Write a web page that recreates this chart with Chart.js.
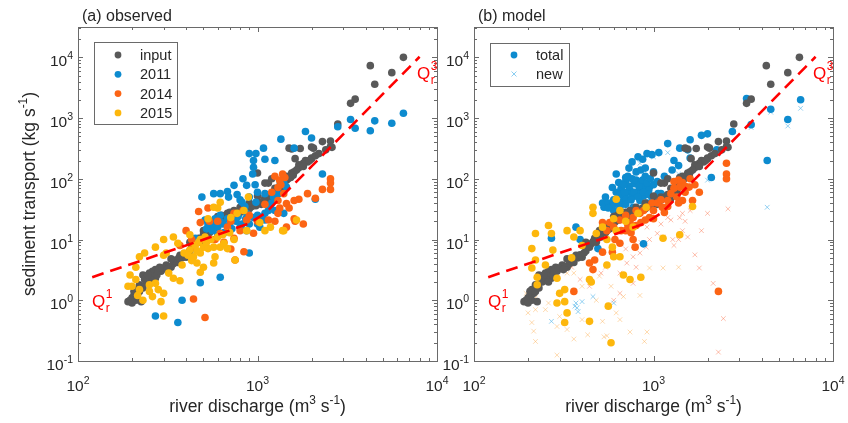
<!DOCTYPE html>
<html>
<head>
<meta charset="utf-8">
<script src="https://cdn.jsdelivr.net/npm/chart.js@4.4.1/dist/chart.umd.min.js"></script>
<style>
  html, body { margin: 0; padding: 0; background: #fff; }
  #wrap { position: relative; width: 848px; height: 423px; overflow: hidden; }
  #wrap canvas { position: absolute; top: 0; }
  #chartA { left: 0; }
  #chartB { left: 410px; }
</style>
</head>
<body>
<div id="wrap">
  <canvas id="chartA" width="460" height="423"></canvas>
  <canvas id="chartB" width="438" height="423"></canvas>
</div>
<script>
// river discharge Q (m3/s) vs sediment transport S (kg/s), pairs [Q, S]
const input = [
  [6500,10000],[4250,7300],[5600,5600],[4500,3600],[3300,1750],[3500,2050],[2800,800],[2300,410],
  [2550,420],[2550,340],[2000,335],[2000,215],[1730,315],[1550,310],[2050,320],[1500,320],[1620,215],
  [190,0.95],[200,1.1],[210,1.0],[210,1.5],[220,1.8],[225,0.95],[240,2.0],[230,2.6],[250,2.8],[270,2.3],
  [270,3.2],[285,3.5],[310,3.8],[330,3.5],[350,4.6],[370,5.5],[400,5.1],[430,8],[470,10.5],[500,12],
  [530,14],[560,16],[620,21],[680,23],[740,27],[800,28],[890,34],[950,37],[1020,41],[1100,50],[1250,70],
  [1340,85],[1530,105],[1690,150],[1800,180],[2000,220],[1000,125],[1850,200],[1700,170],[1550,125],
  [1450,95],[1350,63],[1300,57],[1240,45],[1150,85],[1000,52],[1040,40],[1100,45],[800,34],[740,30],
  [680,27],[630,25],[290,3.0],[300,3.3],[320,3.6],[360,4.2],[380,5.0],[420,6.5],[450,8.5],[480,9],
  [520,12.5],[550,14],[580,17],[600,19],[650,22],[700,24],[760,26],[850,30],[900,32],[980,36],[1050,38],
  [1150,48],[1200,55],[1400,90],[1450,110],[1600,130],[1750,160],[1900,190],[2100,240],[2400,300],
  [260,3.0],[240,2.4],[215,1.3],[205,1.2],[230,1.6],[255,2.2],[265,2.8],[1400,105],
  [195,1.0],[200,0.9],[205,1.4],[220,1.4],[235,2.2],[245,2.6],[275,2.6],[280,3.1],[295,3.4],[315,3.2],
  [340,4.0],[345,4.4],[365,5.0],[390,5.6],[410,6.0],[440,7.5],[460,9.2],[490,10.5],[510,11],[540,13],
  [570,15],[590,18],[610,19.5],[640,21],[660,23],[720,25],[780,29],[820,31],[870,33],[930,35],[1000,39],
  [1080,44],[1180,52],[1300,65],[1380,80],[1480,100],[1580,115],[1650,140],[1800,160],[1950,200],
  [2200,260],[2600,330],[1100,85],[1200,100],[900,40],[700,28],[600,24],[500,14],[420,9],[330,4.8],[260,2.0]
];
const obs2011 = [
  [6500,1200],[5600,820],[4500,900],[4250,620],[3500,680],[3300,950],[2800,720],[2300,120],[2100,46],
  [2000,470],[1850,600],[1600,320],[1350,450],[1250,200],[1100,210],[1080,320],[980,260],[900,260],
  [950,200],[950,155],[940,120],[830,100],[970,80],[870,78],[740,78],[680,62],[620,57],[570,57],[770,55],
  [490,50],[690,50],[820,41],[980,41],[1100,57],[1230,50],[1300,57],[1400,87],[1450,73],[1250,30],
  [1400,27],[510,21],[540,16],[560,14],[630,19],[650,13],[740,21],[800,16],[870,14],[950,23],[1030,16],
  [1100,21],[870,27],[1100,27],[1180,34],[450,10.5],[900,6],[480,1.95],[620,2.4],[380,1.0],[270,0.55],
  [360,0.43],[520,15],[530,18],[580,22],[600,12],[700,18],[760,20],[900,18],[1000,25],[1150,30],
  [850,35],[1200,40],[600,16],[640,18],[680,22],[720,15],[780,24],[820,18],[860,22],[1000,18],[1050,23],
  [560,18],[620,25],[900,50],[1000,60],[800,45]
];
const obs2014 = [
  [2550,100],[2550,85],[2550,67],[2300,67],[2100,48],[1900,57],[1700,46],[1600,44],[1800,18],[1600,22],
  [1620,20],[1450,16],[1420,105],[1330,95],[1300,72],[1400,57],[1300,44],[1250,110],[1450,39],[1500,33],
  [1330,33],[1300,27],[1250,20],[1150,21],[1000,20],[870,21],[830,30],[740,27],[710,20],[800,14],
  [740,10.5],[840,6.3],[750,4.6],[710,7],[620,12.6],[600,20],[540,20],[480,19],[470,29],[530,33],
  [400,14],[430,10],[440,7.5],[370,8],[950,12.7],[440,1.05],[510,0.52],[580,10],[1350,80],[1200,60],
  [1100,38],[680,16],[650,9],[900,25],[1380,120]
];
const obs2015 = [
  [1650,21],[1400,14],[870,14],[750,4.6],[1180,16],[1100,14],[1030,19],[890,50],[840,30],[770,27],
  [710,23],[620,41],[600,33],[570,34],[530,22],[420,12],[360,8.7],[340,11],[300,10],[270,7.5],[300,5.5],
  [220,5.2],[235,6],[310,6],[210,3.5],[195,2.6],[210,2.2],[190,1.7],[200,1.7],[220,1.5],[250,1.8],
  [280,1.5],[300,1.3],[260,1.15],[290,0.95],[230,1.0],[300,0.55],[320,2.8],[340,2.3],[380,3.8],[370,2.1],
  [390,6],[420,6.7],[440,5.2],[460,4.1],[480,6],[500,7.5],[530,7.1],[570,7.5],[580,5.2],[570,4.1],
  [620,7.5],[650,8.7],[680,7.1],[740,10],[480,10],[510,11],[480,2.9],[500,3.5],[1380,14],[450,8],
  [470,9],[520,9],[550,10],[600,11],[640,12],[700,13],[460,6.5],[430,4.5],[410,5.5],[250,1.4],[270,1.9],
  [215,1.2]
];
const model2011 = [
  [6600,2000],[4500,1400],[5600,950],[4300,200],[3300,2100],[3500,780],[2750,600],[2250,300],[2100,105],
  [2000,550],[1850,520],[1600,440],[1550,300],[1400,320],[1380,165],[1270,140],[1200,380],[1070,270],
  [980,250],[920,260],[870,210],[820,230],[730,150],[700,105],[640,87],[590,72],[540,50],[520,40],
  [530,34],[780,83],[740,65],[810,57],[870,73],[950,73],[980,50],[1060,57],[1100,57],[1350,57],[840,44],
  [680,44],[650,34],[770,34],[920,40],[600,30],[370,16],[270,10.5],[390,10],[490,7.1],[880,8.5],
  [620,60],[660,70],[700,90],[720,60],[760,100],[800,95],[850,90],[900,110],[940,65],[1000,80],
  [1050,90],[1150,110],[1000,130],[1300,200],[1600,220],[560,40],[600,45],[580,35],[640,40],[700,48],
  [760,50],[820,60],[880,52],[620,120],[760,190],[650,55],[690,60],[730,75],[780,60],[830,75],[870,95],
  [920,85],[960,100],[680,80],[720,110],[800,130],[850,140],[900,150],[700,38],[750,45],[820,50],
  [880,60],[940,55],[600,38],[560,33]
];
const model2014 = [
  [2550,180],[2550,120],[2550,100],[2300,1.4],[1800,60],[1650,44],[1580,73],[1450,87],[1400,73],
  [1380,95],[1450,44],[1300,70],[1250,57],[1380,40],[1200,44],[1120,34],[980,40],[920,34],[840,27],
  [770,23],[740,19],[950,23],[1050,40],[650,21],[570,19],[520,19],[550,14],[610,10],[650,8.7],[770,10],
  [790,7.5],[470,4.6],[440,4.1],[460,3.2],[520,6.2],[590,6.2],[360,1.4],[700,25],[800,30],[880,30],
  [1000,30],[1100,45],[1500,60],[1600,100],[600,16],[660,14],[720,17],[1350,50],[1200,35],[1150,28],
  [1000,22],[900,21],[850,19],[800,17],[700,14],[750,13],[1500,75],[1700,80],[1300,90]
];
const model2015 = [
  [460,34],[460,27],[620,46],[260,17],[270,12.6],[220,12.6],[210,7.1],[275,6.7],[330,14],[360,11],
  [390,14],[480,12.6],[550,10],[590,7.5],[650,5.2],[680,2.6],[220,4.6],[210,3.4],[250,3.8],[225,2.4],
  [225,1.8],[290,2.3],[320,1.5],[300,1.3],[290,0.9],[320,0.95],[330,0.62],[320,0.43],[440,0.45],
  [560,0.8],[580,0.2],[440,2.2],[450,2.0],[550,3.8],[600,5.2],[850,2.4],[740,2.2],[820,27],[910,34],
  [770,16],[620,14],[1650,35],[1400,12],[1130,10.5],[700,20],[520,16],[600,22],[650,30],[350,5],[400,8]
];
const new2011 = [
  [6600,1450],[4500,1250],[5600,740],[3500,700],[4300,34],[370,0.9],[380,0.65],[400,0.95],[460,1.15],
  [270,0.45],[600,0.9],[2000,95],[840,180],[1000,230],[1380,120],[540,44],[1200,270],[2300,260],
  [375,0.75],[365,0.8]
];
const new2014 = [
  [2600,32],[2450,0.5],[2300,0.14],[2150,1.9],[2000,27],[1850,14],[1800,3.4],[1700,5.6],[1550,11],
  [1450,14],[1380,10],[1250,21],[1200,23],[1280,10],[1130,11],[1050,12.6],[950,10],[910,7.5],[840,6],
  [770,5.2],[710,4.1],[650,2.8],[800,3.5],[540,3.5],[510,2.8],[440,1.7],[390,2.2],[350,3.5],[650,1.3],
  [600,1.0],[770,1.9],[1450,27],[1600,30],[980,27],[920,16],[1400,23],[1500,20],[1100,18],[850,9],
  [700,7],[1300,8]
];
const new2015 = [
  [200,0.62],[210,0.43],[215,0.31],[220,0.21],[195,1.3],[220,0.7],[250,0.7],[290,0.125],[290,0.37],
  [300,0.54],[330,0.33],[360,0.23],[400,0.48],[430,0.27],[520,0.45],[530,0.25],[550,0.26],[650,0.48],
  [740,0.3],[840,1.2],[920,0.3],[890,0.21],[950,3.4],[1130,3.4],[1380,3.5],[680,1.15],[400,1.7],
  [360,2.8],[580,1.7],[620,0.62],[330,2.8],[220,1.1],[260,0.9],[480,1.0],[500,2.5]
];
// Q_r^1 -> Q_r^3 reference line
const qrLine = [[120,2.4],[300,6],[600,12],[900,18.5],[1100,27],[1300,44],[1500,68],[2000,160],[3000,540],[5000,2500],[8000,10240]];

const xDecades = [100, 1000, 10000];
const xExponents = ['2', '3', '4'];
const yDecades = [0.1, 1, 10, 100, 1000, 10000];
const yExponents = ['-1', '0', '1', '2', '3', '4'];
const yearLabels = ['2011', '2014', '2015'];

const FONT = '"Liberation Sans", Arial, sans-serif';
const AXIS_COLOR = '#6a6a6a';
const TEXT_COLOR = '#262626';
const GRAY = '#595959';
const BLUE = '#0d8bcf';
const ORANGE = '#fc6414';
const YELLOW = '#fdb70c';

const pts = (arr) => arr.map(([x, y]) => ({ x, y }));

function dots(label, arr, color, order) {
    return { label, data: pts(arr), backgroundColor: color, borderWidth: 0, pointRadius: 3.8, order };
}
function crosses(label, arr, color, order) {
    return { label, data: pts(arr), pointStyle: "crossRot", borderColor: color, borderWidth: 1, pointRadius: 3.3, order };
}
function refLine() {
    return {
        label: "Qr", data: pts(qrLine), showLine: true, pointRadius: 0,
        borderColor: "#ff0000", borderWidth: 2.6, borderDash: [12, 7], order: 0,
    };
}

// text with superscripts, parts: [text, kind]
function richText(ctx, parts, x, y, size, align) {
    const widths = parts.map(([t, kind]) => {
        ctx.font = `${kind ? size * 0.68 : size}px ${FONT}`;
        return ctx.measureText(t).width;
    });
    const total = widths.reduce((a, b) => a + b, 0);
    let cx = align === "center" ? x - total / 2 : align === "right" ? x - total : x;
    ctx.textAlign = "left";
    ctx.textBaseline = "alphabetic";
    parts.forEach(([t, kind], i) => {
        ctx.font = `${kind ? size * 0.68 : size}px ${FONT}`;
        const dy = kind === "sup" ? -size * 0.45 : 0;
        ctx.fillText(t, cx, y + dy);
        cx += widths[i];
    });
}

function qLabel(ctx, x, y, sup) {
    ctx.fillStyle = "#ff0000";
    ctx.textAlign = "left";
    ctx.textBaseline = "alphabetic";
    ctx.font = `17px ${FONT}`;
    ctx.fillText("Q", x, y);
    const w = ctx.measureText("Q").width;
    ctx.font = `12px ${FONT}`;
    ctx.fillText("r", x + w + 0.5, y + 5);
    ctx.fillText(sup, x + w + 0.5, y - 9);
}

const panelDecor = {
    id: "panelDecor",
    afterDraw(chart, args, opts) {
        const { ctx, chartArea: a, scales } = chart;
        ctx.save();
        // box
        ctx.strokeStyle = AXIS_COLOR;
        ctx.lineWidth = 1;
        ctx.strokeRect(a.left + 0.5, a.top + 0.5, a.right - a.left, a.bottom - a.top);
        // log ticks, inside, all four sides
        ctx.beginPath();
        const xs = scales.x, ys = scales.y;
        for (let d = 0; d < xDecades.length; d++) {
            for (let k = 1; k <= 9; k++) {
                const v = xDecades[d] * k;
                if (v > xs.max) break;
                const px = Math.round(xs.getPixelForValue(v)) + 0.5;
                const len = k === 1 ? 5 : 3;
                ctx.moveTo(px, a.bottom); ctx.lineTo(px, a.bottom - len);
                ctx.moveTo(px, a.top); ctx.lineTo(px, a.top + len);
            }
        }
        for (let d = 0; d < yDecades.length; d++) {
            for (let k = 1; k <= 9; k++) {
                const v = yDecades[d] * k;
                if (v > ys.max) break;
                const py = Math.round(ys.getPixelForValue(v)) + 0.5;
                const len = k === 1 ? 5 : 3;
                ctx.moveTo(a.left, py); ctx.lineTo(a.left + len, py);
                ctx.moveTo(a.right, py); ctx.lineTo(a.right - len, py);
            }
        }
        ctx.stroke();
        // tick labels
        ctx.fillStyle = TEXT_COLOR;
        xDecades.forEach((v, i) => {
            richText(ctx, [["10"], [xExponents[i], "sup"]], xs.getPixelForValue(v), a.bottom + 30, 15.5, "center");
        });
        yDecades.forEach((v, i) => {
            richText(ctx, [["10"], [yExponents[i], "sup"]], a.left - 5, ys.getPixelForValue(v) + 9, 15.5, "right");
        });
        // axis titles
        richText(ctx, [["river discharge (m"], ["3", "sup"], [" s"], ["-1", "sup"], [")"]],
            (a.left + a.right) / 2, 412, 17.5, "center");
        if (opts.yTitle) {
            ctx.save();
            ctx.translate(35, (a.top + a.bottom) / 2);
            ctx.rotate(-Math.PI / 2);
            richText(ctx, [["sediment transport (kg s"], ["-1", "sup"], [")"]], 0, 0, 17.5, "center");
            ctx.restore();
        }
        // panel title
        ctx.font = `16px ${FONT}`;
        ctx.textAlign = "left";
        ctx.fillText(opts.title, a.left + 4, 21);
        // Q_r labels
        qLabel(ctx, a.left + 14, a.top + 280, "1");
        qLabel(ctx, a.left + 339, a.top + 52, "3");
        // legend
        const L = opts.legend;
        const bx = a.left + L.x, by = a.top + L.y;
        ctx.fillStyle = "#fff";
        ctx.fillRect(bx, by, L.w, L.h);
        ctx.strokeStyle = AXIS_COLOR;
        ctx.strokeRect(bx + 0.5, by + 0.5, L.w, L.h);
        L.rows.forEach((r, i) => {
            const cy = by + L.row0 + i * L.step;
            const mx = bx + 24;
            if (r.style === "cross") {
                ctx.strokeStyle = r.color;
                ctx.lineWidth = 1;
                ctx.beginPath();
                ctx.moveTo(mx - 2.5, cy - 2.5); ctx.lineTo(mx + 2.5, cy + 2.5);
                ctx.moveTo(mx + 2.5, cy - 2.5); ctx.lineTo(mx - 2.5, cy + 2.5);
                ctx.stroke();
            } else {
                ctx.fillStyle = r.color;
                ctx.beginPath();
                ctx.arc(mx, cy, 3.4, 0, Math.PI * 2);
                ctx.fill();
            }
            ctx.fillStyle = TEXT_COLOR;
            ctx.font = `14.5px ${FONT}`;
            ctx.textAlign = "left";
            ctx.textBaseline = "middle";
            ctx.fillText(r.label, bx + 46, cy + 1);
        });
        ctx.restore();
    },
};

function makePanel(canvasId, datasets, yWidth, padRight, decor) {
    return new Chart(document.getElementById(canvasId), {
        type: "scatter",
        data: { datasets },
        options: {
            responsive: false,
            animation: false,
            layout: { padding: { top: 27, right: padRight, left: 0, bottom: 0 } },
            scales: {
                x: {
                    type: "logarithmic", min: 100, max: 10000,
                    grid: { display: false }, border: { display: false }, ticks: { display: false },
                    afterFit(s) { s.height = 62; },
                },
                y: {
                    type: "logarithmic", min: 0.1, max: 31623,
                    grid: { display: false }, border: { display: false }, ticks: { display: false },
                    afterFit(s) { s.width = yWidth; },
                },
            },
            plugins: { legend: { display: false }, tooltip: { enabled: false }, panelDecor: decor },
        },
        plugins: [panelDecor],
    });
}

makePanel("chartA", [
    refLine(),
    dots(yearLabels[2], obs2015, YELLOW, 1),
    dots(yearLabels[1], obs2014, ORANGE, 2),
    dots(yearLabels[0], obs2011, BLUE, 3),
    dots("input", input, GRAY, 4),
], 78, 23, {
    title: "(a) observed",
    yTitle: true,
    legend: {
        x: 16, y: 15, w: 83, h: 82, row0: 13, step: 19.3,
        rows: [
            { label: "input", color: GRAY },
            { label: yearLabels[0], color: BLUE },
            { label: yearLabels[1], color: ORANGE },
            { label: yearLabels[2], color: YELLOW },
        ],
    },
});

makePanel("chartB", [
    refLine(),
    dots(yearLabels[2], model2015, YELLOW, 1),
    dots(yearLabels[1], model2014, ORANGE, 2),
    dots("input", input, GRAY, 3),
    dots(yearLabels[0], model2011, BLUE, 4),
    crosses("new " + yearLabels[0], new2011, "rgba(90,185,235,0.65)", 5),
    crosses("new " + yearLabels[1], new2014, "rgba(250,110,70,0.45)", 6),
    crosses("new " + yearLabels[2], new2015, "rgba(252,170,70,0.42)", 7),
], 64, 15, {
    title: "(b) model",
    yTitle: false,
    legend: {
        x: 16, y: 16, w: 79, h: 43, row0: 12, step: 19,
        rows: [
            { label: "total", color: BLUE },
            { label: "new", color: "rgba(90,185,235,0.7)", style: "cross" },
        ],
    },
});
</script>
</body>
</html>
